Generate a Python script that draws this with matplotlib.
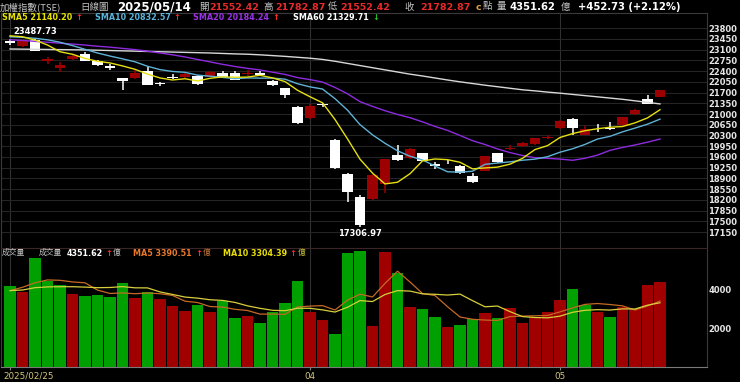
import numpy as np
import matplotlib
matplotlib.use("Agg")
import matplotlib.pyplot as plt
import matplotlib.transforms as mtransforms

# ---------------- data ----------------
tick_idx = [0, 24, 44]
tick_labels = ["2025/02/25", "04", "05"]

opens = [23380, 23230, 23413, 22745, 22490, 22785, 22945, 22730, 22575, 22160,
         22185, 22400, 21995, 22215, 22215, 22240, 22215, 22347, 22347, 22300,
         22326, 22086, 21836, 21238, 20880, 21310, 20150, 19045, 18300, 18220,
         18720, 19680, 19556, 19717, 19380, 19440, 19305, 18979, 19152, 19717,
         19850, 19957, 20013, 20220, 20534, 20827, 20316, 20560, 20560, 20642,
         20990, 21480, 21552.42]
highs = [23440, 23420, 23487.73, 22850, 22700, 22950, 23010, 22770, 22640, 22170,
         22480, 22540, 22040, 22300, 22350, 22260, 22400, 22400, 22402, 22450,
         22400, 22100, 21850, 21260, 21317, 21360, 20170, 19080, 18360, 19030,
         19540, 19990, 19882, 19740, 19440, 19500, 19330, 19067, 19640, 19730,
         19990, 20097, 20220, 20310, 20800, 20880, 20620, 20680, 20730, 20900,
         21180, 21620, 21782.87]
lows = [23250, 23180, 23040, 22620, 22380, 22750, 22720, 22560, 22440, 21780,
        22150, 21946, 21900, 22150, 22180, 21935, 22200, 22200, 22100, 22240,
        22240, 21900, 21510, 20680, 20850, 21230, 19200, 18142, 17306.97, 18200,
        18415, 19480, 19540, 19470, 19200, 19380, 19060, 18760, 19140, 19400,
        19830, 19940, 20000, 20200, 20520, 20316, 20300, 20400, 20480, 20600,
        20970, 21320, 21552.42]
closes = [23310, 23410, 23060, 22780, 22590, 22900, 22730, 22600, 22510, 22090,
          22350, 21950, 21970, 22180, 22300, 21990, 22380, 22210, 22110, 22330,
          22280, 21960, 21620, 20696, 21270, 21298, 19232, 18460, 17392, 19000,
          19529, 19510, 19850, 19480, 19310, 19420, 19090, 18770, 19630, 19445,
          19900, 20045, 20210, 20260, 20780, 20530, 20520, 20530, 20510, 20890,
          21130, 21330.14, 21782.87]

sma5 = [23550, 23520, 23410, 23250, 23030, 22948, 22812, 22720, 22666, 22568,
        22458, 22302, 22176, 22110, 22150, 22078, 22164, 22212, 22198, 22204,
        22262, 22178, 22058, 21775, 21563, 21367, 20821, 20189, 19528, 19074,
        18721, 18776, 19054, 19472, 19534, 19512, 19428, 19212, 19242, 19269,
        19365, 19556, 19842, 19968, 20235, 20361, 20456, 20520, 20570, 20592,
        20712, 20874, 21140.20]
sma10 = [23520, 23500, 23470, 23420, 23340, 23230, 23110, 22990, 22890, 22799,
         22703, 22557, 22448, 22388, 22359, 22268, 22233, 22194, 22154, 22177,
         22170, 22171, 22136, 21988, 21885, 21815, 21501, 21126, 20654, 20321,
         20046, 19801, 19624, 19502, 19306, 19118, 19104, 19135, 19359, 19403,
         19441, 19494, 19530, 19608, 19755, 19866, 20009, 20185, 20273, 20418,
         20541, 20669, 20832.57]
sma20 = [23420, 23400, 23370, 23340, 23310, 23280, 23250, 23210, 23180, 23140,
         23100, 23050, 22990, 22930, 22860, 22780, 22700, 22620, 22550, 22488,
         22437, 22364, 22292, 22188, 22122, 22042, 21867, 21660, 21404, 21249,
         21108, 20986, 20880, 20745, 20595, 20467, 20302, 20130, 20006, 19862,
         19743, 19647, 19577, 19555, 19531, 19492, 19557, 19660, 19816, 19910,
         19991, 20082, 20184.24]
sma60 = [23120, 23115, 23110, 23105, 23100, 23095, 23090, 23080, 23070, 23060,
         23050, 23040, 23030, 23020, 23010, 23000, 22990, 22975, 22960, 22950,
         22930, 22905, 22880, 22850, 22820, 22780, 22720, 22650, 22580, 22510,
         22440, 22370, 22300, 22240, 22175, 22110, 22050, 21995, 21940, 21890,
         21840, 21790, 21755, 21715, 21680, 21640, 21600, 21560, 21520, 21480,
         21430, 21380, 21329.71]

volumes = [4172, 3879, 5590, 4448, 4207, 3758, 3655, 3707, 3586, 4345,
           3551, 3845, 3517, 3155, 2862, 3207, 2810, 3379, 2534, 2603,
           2276, 2827, 3310, 4431, 2810, 2414, 1690, 5845, 5964, 2103,
           5900, 4827, 3069, 3000, 2586, 2034, 2172, 2483, 2793, 2500,
           3017, 2276, 2586, 2845, 3448, 4017, 3207, 2810, 2586, 3103,
           2965, 4224, 4351.62]
vol_dir = list("grgggrggggrgrrrgrggrggggrrgggrrgrggrggrgrrrrrggrgrrrr")
vma5 = [3930, 4100, 4330, 4480, 4459, 4376, 4332, 3955, 3783, 3810,
        3769, 3807, 3769, 3683, 3386, 3317, 3110, 3083, 2966, 2907,
        2720, 2724, 2710, 3089, 3131, 3158, 2931, 3438, 3745, 3603,
        4300, 4928, 4373, 3780, 3676, 3103, 2572, 2456, 2414, 2396,
        2593, 2618, 2634, 2649, 2834, 3038, 3221, 3265, 3214, 3145,
        2934, 3138, 3390.51]
vma10 = [3930, 3960, 4080, 4120, 4130, 4130, 4110, 4080, 4090, 4135,
         4073, 4069, 3862, 3733, 3598, 3543, 3459, 3426, 3321, 3146,
         3019, 2917, 2896, 3024, 3019, 2939, 2827, 3074, 3417, 3367,
         3729, 3929, 3905, 3762, 3740, 3702, 3750, 3414, 3097, 3136,
         2848, 2593, 2545, 2529, 2615, 2814, 2917, 2950, 2929, 2990,
         2984, 3179, 3304.39]

price_ticks = list(range(17150, 23801, 350))
vol_ticks = [2000, 4000]

# ---------------- figure ----------------
W, H = 740, 382
fig = plt.figure(figsize=(W / 100, H / 100), dpi=100, facecolor="black")


def fx(px):
    return px / W


def fy(py):
    return 1 - py / H


ax = fig.add_axes([fx(1), fy(248), fx(707) - fx(1), fy(12.5) - fy(248)])
axv = fig.add_axes([fx(1), fy(367), fx(707) - fx(1), fy(249) - fy(367)], sharex=ax)

n = len(closes)
x = np.arange(n)

UP = "#9c0000"
DOWN = "#ffffff"
for a in (ax, axv):
    a.set_facecolor("black")

# candles
o = np.array(opens, float)
c = np.array(closes, float)
hi = np.array(highs, float)
lo = np.array(lows, float)
up = c >= o
ccol = [UP if u else DOWN for u in up]
body_bottom = np.minimum(o, c)
body_h = np.maximum(np.abs(c - o), 28)
ax.vlines(x, lo, hi, colors=ccol, lw=1.1, zorder=3)
ax.bar(x, body_h, bottom=body_bottom, width=0.86, color=ccol, lw=0, zorder=3)

# moving averages
ax.plot(x, sma60, color="#d8d8d8", lw=1.0, zorder=4)
ax.plot(x, sma20, color="#8e2be0", lw=1.0, zorder=4)
ax.plot(x, sma10, color="#5fb2d6", lw=1.0, zorder=4)
ax.plot(x, sma5, color="#e6e010", lw=1.0, zorder=4)

ax.set_xlim(-0.72, 55.76)
ax.set_ylim(16632, 24310)
ax.yaxis.tick_right()
ax.set_yticks(price_ticks)
ax.tick_params(axis="y", length=0, pad=1, labelsize=6, labelcolor="#e6e6e6")
ax.tick_params(axis="x", length=0, labelbottom=False)
ax.set_xticks(tick_idx)
ax.grid(axis="y", color="#242424", lw=0.8, zorder=0)
ax.grid(axis="x", color="#303030", lw=0.8, zorder=0)
for lbl in ax.get_yticklabels():
    lbl.set_fontweight("bold")

# high / low labels
ih = int(np.argmax(hi))
il = int(np.argmin(lo))
ax.annotate(f"{highs[ih]:.2f}", xy=(ih, highs[ih]), xytext=(0, 1.5),
            textcoords="offset points", ha="center", va="bottom",
            color="white", fontsize=6, fontweight="bold", zorder=6)
ax.annotate(f"{lows[il]:.2f}", xy=(il, lows[il]), xytext=(0, -1.5),
            textcoords="offset points", ha="center", va="top",
            color="white", fontsize=6, fontweight="bold", zorder=6)

# volume
vcol = ["#00a000" if d == "g" else "#a00000" for d in vol_dir]
axv.bar(x, volumes, width=0.9, color=vcol, lw=0, zorder=2)
axv.plot(x, vma5, color="#c46a24", lw=0.9, zorder=3)
axv.plot(x, vma10, color="#d8cf3c", lw=0.9, zorder=3)
axv.set_ylim(0, 6070)
axv.yaxis.tick_right()
axv.set_yticks(vol_ticks)
axv.tick_params(axis="y", length=0, pad=1, labelsize=6, labelcolor="#e6e6e6")
for lbl in axv.get_yticklabels():
    lbl.set_fontweight("bold")
axv.set_xticks(tick_idx)
axv.set_xticklabels(tick_labels)
axv.tick_params(axis="x", length=2.2, width=0.8, color="#808080", pad=1.2,
                labelsize=6.3, labelcolor="#d2c77a")
axv.grid(axis="x", color="#303030", lw=0.8, zorder=0)
first = axv.get_xticklabels()[0]
first.set_ha("left")
first.set_transform(first.get_transform() +
                    mtransforms.ScaledTranslation(-7 / 100, 0, fig.dpi_scale_trans))

for a in (ax, axv):
    for s in a.spines.values():
        s.set_color("#3a3a3a")
        s.set_linewidth(0.8)
ax.spines["bottom"].set_color("#3a2626")
axv.spines["bottom"].set_color("#7a7a7a")
axv.spines["top"].set_visible(False)

# ---------------- header texts ----------------
CJK = ["Noto Sans CJK TC", "DejaVu Sans"]
NUM = ["DejaVu Sans"]


def t(px, py, s, color, size, bold=True, fam=NUM):
    fig.text(fx(px), fy(py), s, color=color, fontsize=size,
             fontweight="bold" if bold else "normal", family=fam,
             ha="left", va="center")


GRAY = "#c4c4c4"
RED = "#e82a2a"
y0 = 7
t(0, y0, "加權指數(TSE)", GRAY, 6.8, False, CJK)
t(80, y0, "日線圖", GRAY, 6.8, False, CJK)
t(117, y0, "2025/05/14", "white", 8.5)
t(199, y0, "開", GRAY, 6.8, False, CJK)
t(209, y0, "21552.42", RED, 6.8)
t(263, y0, "高", GRAY, 6.8, False, CJK)
t(275, y0, "21782.87", RED, 6.8)
t(328, y0, "低", GRAY, 6.8, False, CJK)
t(340, y0, "21552.42", RED, 6.8)
t(404, y0, "收", GRAY, 6.8, False, CJK)
t(420, y0, "21782.87", RED, 6.8)
t(476, y0, "c", "#e0a040", 6.8)
t(483, y0, "點", GRAY, 6.8, False, CJK)
t(497, y0, "量", GRAY, 6.8, False, CJK)
t(509, y0, "4351.62", "white", 7.2)
t(561, y0, "億", GRAY, 6.8, False, CJK)
t(578, y0, "+452.73 (+2.12%)", "white", 7.2)

y1 = 17.3
t(2, y1, "SMA5 21140.20", "#e8e400", 5.8)
t(75, y1, "↑", "#ff2a2a", 6)
t(95, y1, "SMA10 20832.57", "#5ab4dc", 5.8)
t(173, y1, "↑", "#ff2a2a", 6)
t(193, y1, "SMA20 20184.24", "#9932e6", 5.8)
t(272, y1, "↑", "#ff2a2a", 6)
t(293, y1, "SMA60 21329.71", "white", 5.8)
t(372, y1, "↓", "#20c020", 6)

y2 = 253.3
t(2, y2, "成交量", GRAY, 5.6, False, CJK)
t(39, y2, "成交量", GRAY, 5.6, False, CJK)
t(67, y2, "4351.62", "white", 5.8)
t(105, y2, "↑", "#ff2a2a", 6)
t(113, y2, "億", GRAY, 5.6, False, CJK)
t(133, y2, "MA5 3390.51", "#e8782a", 5.8)
t(195, y2, "↑", "#ff2a2a", 6)
t(203, y2, "億", "#c8783a", 5.6, False, CJK)
t(223, y2, "MA10 3304.39", "#e8e000", 5.8)
t(289, y2, "↑", "#ff2a2a", 6)
t(298, y2, "億", "#c8c040", 5.6, False, CJK)

fig.savefig("out.png", dpi=100, facecolor="black")
